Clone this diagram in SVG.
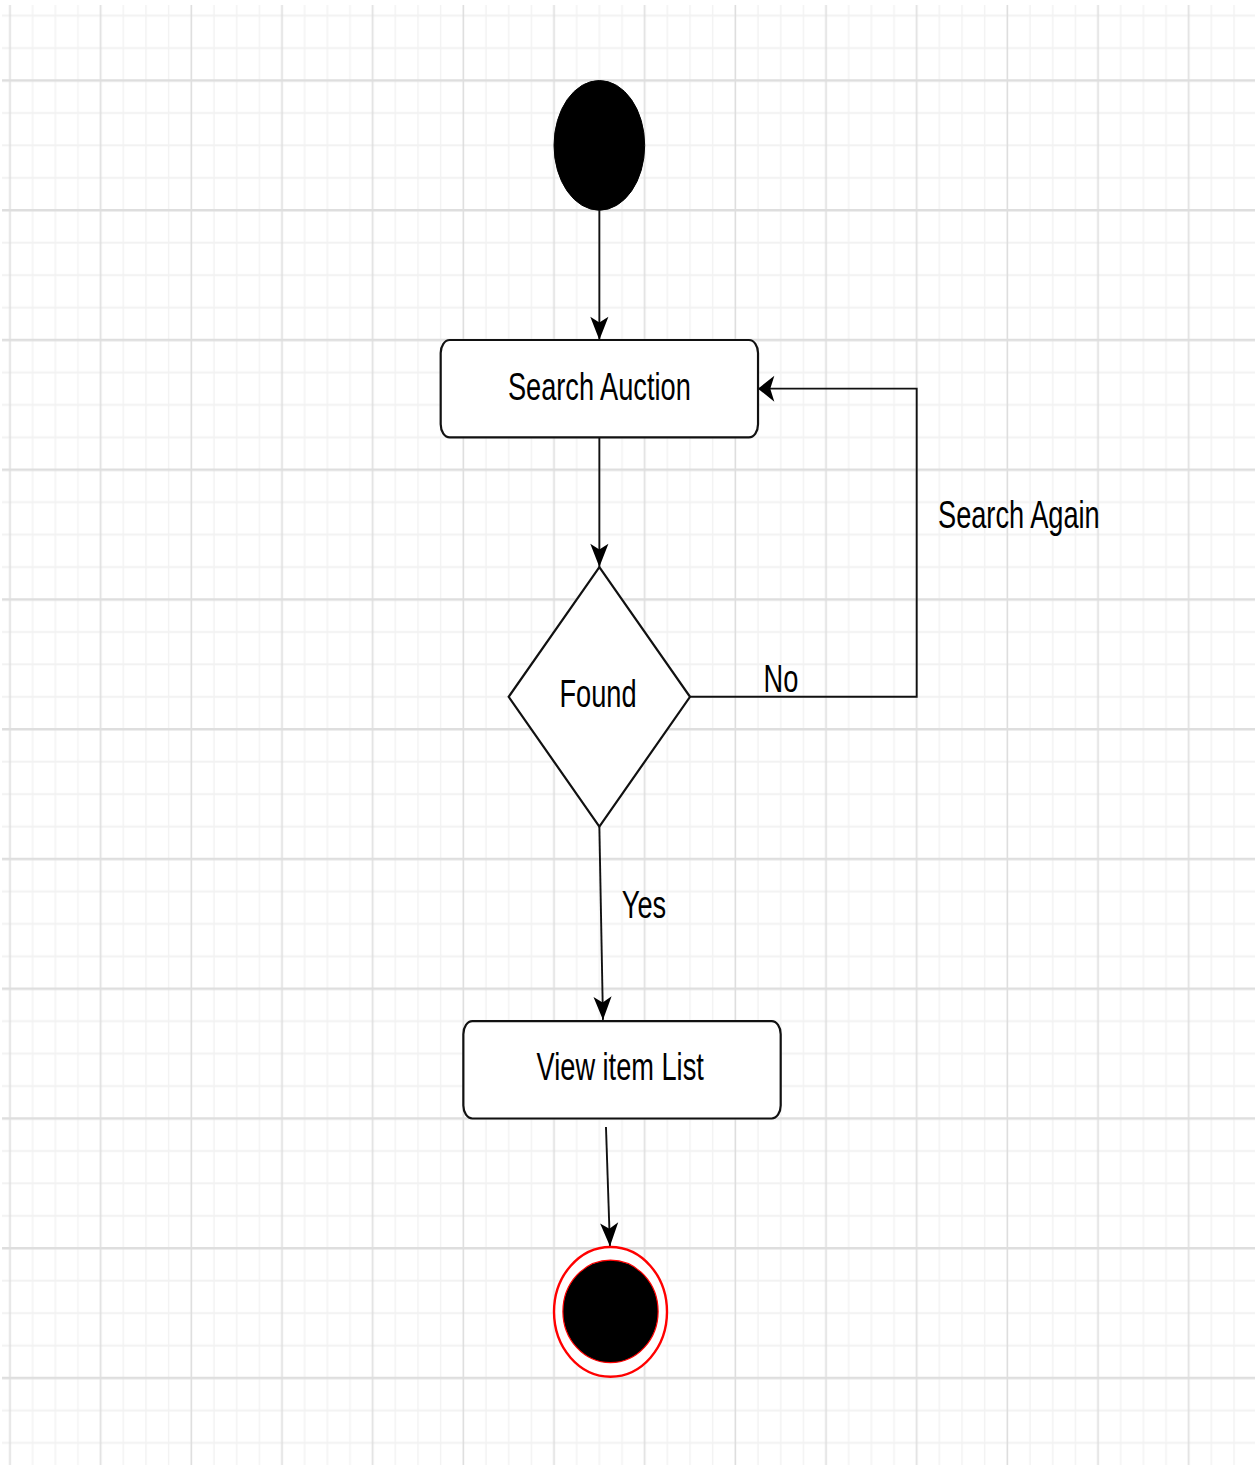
<svg xmlns="http://www.w3.org/2000/svg" width="1255" height="1465" viewBox="0 0 1255 1465">
  <style>
    .lbl { font-family: "Liberation Sans", Arial, Helvetica, sans-serif; font-size: 30px; fill: #000; }
    .mid { text-anchor: middle; }
    .shape { fill: #fff; stroke: #111; stroke-width: 2.2; vector-effect: non-scaling-stroke; }
    .edge { fill: none; stroke: #111; stroke-width: 1.9; vector-effect: non-scaling-stroke; }
    .minor { stroke: #f2f2f2; stroke-width: 1.6; }
    .major { stroke: #dedede; stroke-width: 1.8; }
  </style>
  <defs>
    <pattern id="grid" x="-12.5" y="-12.5" width="100" height="100" patternUnits="userSpaceOnUse">
      <path class="minor" d="M37.5,0 V100 M62.5,0 V100 M87.5,0 V100 M0,37.5 H100 M0,62.5 H100 M0,87.5 H100"/>
      <path class="major" d="M12.5,0 V100 M0,12.5 H100"/>
    </pattern>
    <marker id="arr" viewBox="-20 -11 21 22" refX="0" refY="0" markerWidth="21" markerHeight="22" markerUnits="userSpaceOnUse" orient="auto">
      <path d="M0,0 L-18,-10 L-13.5,0 L-18,10 Z" fill="#000"/>
    </marker>
  </defs>
  <rect width="1255" height="1465" fill="#fff"/>
  <g transform="matrix(0.9067 0 0 1.2975 10 80.5)">
    <rect id="grid-bg" x="-8.8" y="-58.2" width="1382" height="1126" fill="url(#grid)"/>

    <g id="connectors">
      <path class="edge" d="M650,100 L650,200" marker-end="url(#arr)"/>
      <path class="edge" d="M650,275 L650,375" marker-end="url(#arr)"/>
      <path class="edge" d="M750,475 L1000,475 L1000,237.5 L825,237.5" marker-end="url(#arr)"/>
      <path class="edge" d="M650,575 L654,724" marker-end="url(#arr)"/>
      <path class="edge" d="M657.3,806.6 L661.7,898.5" marker-end="url(#arr)"/>
      <text class="lbl" x="1023.5" y="345">Search Again</text>
      <text class="lbl mid" x="850.3" y="471">No</text>
      <text class="lbl mid" x="699.2" y="645.5">Yes</text>
    </g>

    <g id="start">
      <circle cx="650" cy="50" r="50" fill="#000" stroke="#000" stroke-width="1" vector-effect="non-scaling-stroke"/>
    </g>

    <g id="search-auction">
      <rect class="shape" x="475" y="200" width="350" height="75" rx="10" ry="10"/>
      <text class="lbl mid" x="650" y="246.3">Search Auction</text>
    </g>

    <g id="found">
      <polygon class="shape" points="650,375 750,475 650,575 550,475"/>
      <text class="lbl mid" x="648.5" y="483">Found</text>
    </g>

    <g id="view-item-list">
      <rect class="shape" x="500" y="725" width="350" height="75" rx="10" ry="10"/>
      <text class="lbl mid" x="673" y="770.4">View item List</text>
    </g>

    <g id="end">
      <ellipse cx="662.3" cy="949" rx="62.3" ry="50" fill="#fff" stroke="#ff0000" stroke-width="2.4" vector-effect="non-scaling-stroke"/>
      <ellipse cx="662.3" cy="948.7" rx="52.5" ry="39.5" fill="#000" stroke="#ff0000" stroke-width="1.2" vector-effect="non-scaling-stroke"/>
    </g>
  </g>
</svg>
